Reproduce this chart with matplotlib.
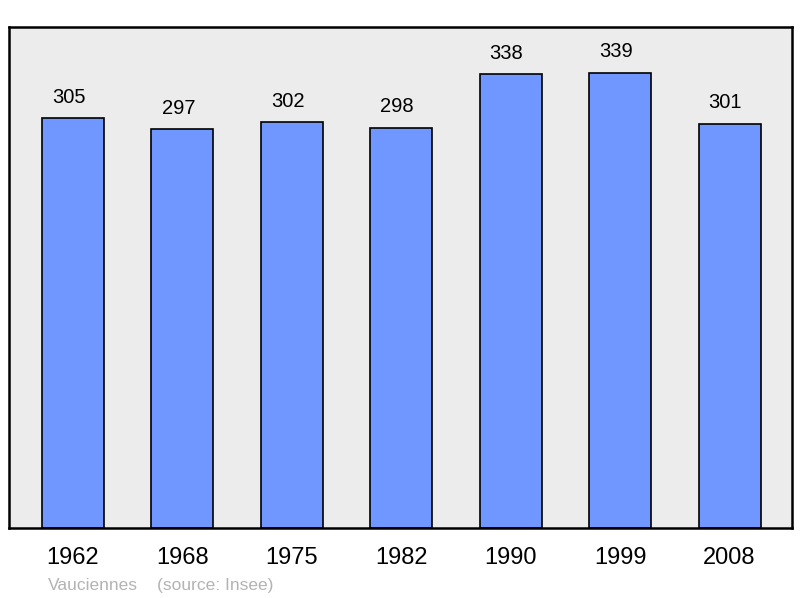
import matplotlib
matplotlib.use("Agg")
from matplotlib import pyplot as plt

years = ["1962", "1968", "1975", "1982", "1990", "1999", "2008"]
population = [305, 297, 302, 298, 338, 339, 301]

BAR_COLOR = "#7097ff"
BG_COLOR = "#ececec"

plt.rcParams["font.family"] = ["Liberation Sans", "DejaVu Sans"]

fig = plt.figure(figsize=(8, 5.98), dpi=100)
ax = fig.add_axes([9 / 800, 70 / 598, 783 / 800, 501 / 598])
ax.set_facecolor(BG_COLOR)

pos = list(range(len(years)))
ax.bar(pos, population, width=0.567, color=BAR_COLOR, edgecolor="black", linewidth=1.2, zorder=2)

# value labels sit a bit left of the bar centre in the original
for x, v in zip(pos, population):
    ax.annotate(str(v), (x, v), xytext=(-3, 15), textcoords="offset points",
                ha="center", va="center", fontsize=14.5)

ax.set_xlim(-0.585, 6.571)
ax.set_ylim(0, 373)
ax.set_yticks([])
ax.set_xticks(pos)
ax.set_xticklabels(years, fontsize=17)
ax.tick_params(axis="x", length=0, pad=14)
for s in ax.spines.values():
    s.set_linewidth(1.8)
    s.set_color("black")

fig.text(48 / 800, 1 - 590 / 598, "Vauciennes", color="#b3b3b3", fontsize=12.5, va="baseline")
fig.text(157 / 800, 1 - 590 / 598, "(source: Insee)", color="#b3b3b3", fontsize=12.5, va="baseline")

fig.savefig("out.png", dpi=100)
